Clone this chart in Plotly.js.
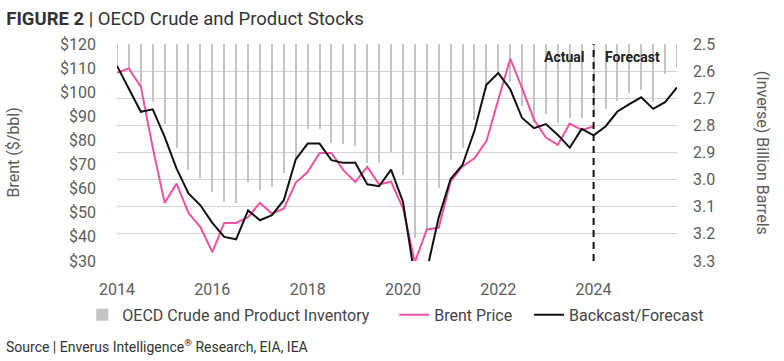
<!DOCTYPE html>
<html>
<head>
<meta charset="utf-8">
<script src="https://cdn.plot.ly/plotly-3.0.1.min.js"></script>
<style>
  html, body { margin: 0; padding: 0; background: #fff; }
  #chart { width: 784px; height: 361px; }
</style>
</head>
<body>
<div id="chart"></div>
<script>
// Quarters 2014Q1 .. 2025Q4
const quarters = [
  "2014Q1","2014Q2","2014Q3","2014Q4","2015Q1","2015Q2","2015Q3","2015Q4",
  "2016Q1","2016Q2","2016Q3","2016Q4","2017Q1","2017Q2","2017Q3","2017Q4",
  "2018Q1","2018Q2","2018Q3","2018Q4","2019Q1","2019Q2","2019Q3","2019Q4",
  "2020Q1","2020Q2","2020Q3","2020Q4","2021Q1","2021Q2","2021Q3","2021Q4",
  "2022Q1","2022Q2","2022Q3","2022Q4","2023Q1","2023Q2","2023Q3","2023Q4",
  "2024Q1","2024Q2","2024Q3","2024Q4","2025Q1","2025Q2","2025Q3","2025Q4"
];

// OECD crude and product inventory, billion barrels (plotted on inverse axis)
const inventory = [
  2.58, 2.59, 2.655, 2.712, 2.796, 2.885, 2.963, 2.995,
  3.044, 3.082, 3.087, 3.01, 3.037, 3.026, 2.977, 2.921,
  2.815, 2.815, 2.864, 2.87, 2.877, 2.938, 2.938, 2.898,
  2.982, 3.216, 3.185, 3.032, 2.927, 2.884, 2.78, 2.67,
  2.61, 2.64, 2.73, 2.79, 2.757, 2.792, 2.773, 2.773,
  2.765, 2.74, 2.71, 2.68, 2.67, 2.715, 2.61, 2.59
];

// Brent price, $/bbl (2014Q1 .. 2024Q1)
const brent = [
  108.1, 109.9, 102.2, 77.0, 54.1, 62.1, 49.9, 44.1,
  33.7, 45.8, 45.8, 48.2, 54.1, 49.7, 51.7, 62.4,
  66.9, 74.8, 74.8, 67.7, 62.8, 69.0, 61.8, 62.9,
  51.9, 29.5, 43.1, 43.8, 63.0, 69.2, 72.6, 79.6,
  96.9, 113.9, 101.7, 88.6, 81.2, 78.2, 87.0, 84.4,
  85.8
];

// Backcast / Forecast price, $/bbl (2014Q1 .. 2025Q4)
const backcast = [
  110.9, 101.2, 91.9, 92.9, 81.5, 68.3, 58.0, 53.1,
  45.8, 40.0, 39.0, 51.0, 46.9, 49.0, 55.2, 72.1,
  78.7, 78.7, 71.8, 70.7, 70.7, 61.8, 61.0, 67.9,
  54.6, 23.0, 26.0, 48.0, 64.0, 69.9, 84.0, 103.1,
  108.0, 101.3, 89.3, 85.1, 86.8, 82.3, 77.0, 84.8,
  82.1, 85.8, 92.0, 95.1, 97.9, 93.1, 95.9, 102.0
];

const xTickLabels = ["2014", "2016", "2018", "2020", "2022", "2024"];
const seriesNames = ["OECD Crude and Product Inventory", "Brent Price", "Backcast/Forecast"];
const forecastStart = 2024;
const inventoryTop = 2.5;

function qToYear(q) {
  const yr = parseInt(q.slice(0, 4), 10);
  const qn = parseInt(q.slice(5), 10);
  return yr + (qn - 1) / 4;
}
const xq = quarters.map(qToYear);
const pad = n => "\u00a0".repeat(n);

const FONT = "Roboto, 'Noto Sans', sans-serif";
const GRAY = "#5c5c5c";

const traces = [
  {
    type: "bar",
    name: seriesNames[0] + pad(5),
    x: xq,
    base: inventory.map(() => inventoryTop),
    y: inventory.map(v => v - inventoryTop),
    width: 0.042,
    marker: { color: "#c4c4c4", line: { width: 0 } },
    yaxis: "y",
    hoverinfo: "skip"
  },
  {
    type: "scatter",
    mode: "lines",
    name: seriesNames[1] + pad(3),
    x: xq.slice(0, brent.length),
    y: brent,
    line: { color: "#ee52a0", width: 2 },
    yaxis: "y2"
  },
  {
    type: "scatter",
    mode: "lines",
    name: seriesNames[2],
    x: xq,
    y: backcast,
    line: { color: "#111111", width: 2 },
    yaxis: "y2"
  }
];

const layout = {
  width: 784,
  height: 361,
  margin: { l: 117, r: 107, t: 44, b: 100 },
  paper_bgcolor: "#ffffff",
  plot_bgcolor: "#ffffff",
  font: { family: FONT, size: 16, color: GRAY },
  showlegend: true,
  bargap: 0,
  title: {
    text: "<b>FIGURE 2</b> | OECD Crude and Product Stocks",
    font: { family: FONT, size: 18.5, color: "#333333" },
    x: 0.008, xanchor: "left", xref: "container",
    y: 0.95, yanchor: "middle", yref: "container"
  },
  xaxis: {
    range: [2014, 2025.75],
    tickmode: "array",
    tickvals: xTickLabels.map(Number),
    ticktext: xTickLabels,
    showgrid: false,
    zeroline: false,
    showline: false,
    ticks: "",
    ticklabelstandoff: 17,
    tickfont: { family: FONT, size: 16, color: GRAY }
  },
  yaxis: {
    side: "right",
    range: [3.3, 2.5],
    tick0: 2.5,
    dtick: 0.1,
    tickformat: ".1f",
    showgrid: true,
    gridcolor: "#d3d3d3",
    gridwidth: 1,
    zeroline: false,
    showline: false,
    ticks: "",
    ticklabelstandoff: 15,
    tickfont: { family: FONT, size: 16, color: GRAY }
  },
  yaxis2: {
    overlaying: "y",
    side: "left",
    range: [30, 120],
    tick0: 30,
    dtick: 10,
    tickprefix: "$",
    showgrid: false,
    zeroline: false,
    showline: false,
    ticks: "",
    ticklabelstandoff: 20,
    tickfont: { family: FONT, size: 16, color: GRAY }
  },
  legend: {
    orientation: "h",
    x: -0.062, xanchor: "left",
    y: -0.17, yanchor: "top",
    font: { family: FONT, size: 16, color: "#444444" },
    traceorder: "normal",
    itemwidth: 30
  },
  shapes: [
    {
      type: "line",
      xref: "x", yref: "paper",
      x0: forecastStart, x1: forecastStart, y0: 0, y1: 1,
      line: { color: "#111111", width: 2, dash: "7px,5px" },
      layer: "above"
    }
  ],
  annotations: [
    {
      text: "<b>Actual</b>", xref: "x", yref: "paper",
      x: forecastStart - 0.15, y: 0.94, xanchor: "right", yanchor: "middle",
      showarrow: false, font: { family: FONT, size: 14, color: "#222222" }
    },
    {
      text: "<b>Forecast</b>", xref: "x", yref: "paper",
      x: forecastStart + 0.2, y: 0.94, xanchor: "left", yanchor: "middle",
      showarrow: false, font: { family: FONT, size: 14, color: "#222222" }
    },
    {
      text: "Brent ($/bbl)", xref: "paper", yref: "paper",
      x: -0.184, y: 0.5, xanchor: "center", yanchor: "middle",
      textangle: -90, showarrow: false,
      font: { family: FONT, size: 16, color: GRAY }
    },
    {
      text: "(Inverse) Billion Barrels", xref: "paper", yref: "paper",
      x: 1.153, y: 0.5, xanchor: "center", yanchor: "middle",
      textangle: 90, showarrow: false,
      font: { family: FONT, size: 16, color: GRAY }
    },
    {
      text: "Source | Enverus Intelligence<sup>®</sup> Research, EIA, IEA",
      xref: "paper", yref: "paper",
      x: -0.202, y: -0.392, xanchor: "left", yanchor: "middle",
      showarrow: false,
      font: { family: FONT, size: 14, color: "#333333" }
    }
  ]
};

Plotly.newPlot("chart", traces, layout, { staticPlot: true, displayModeBar: false });
</script>
</body>
</html>
